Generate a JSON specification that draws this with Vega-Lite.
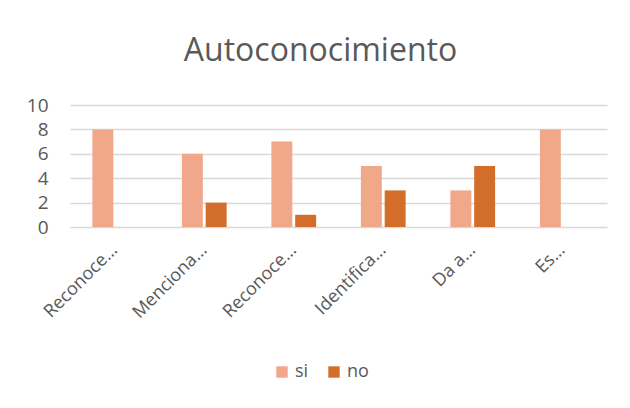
{
  "$schema": "https://vega.github.io/schema/vega-lite/v6.json",
  "width": 537,
  "height": 122,
  "autosize": {"type": "none"},
  "padding": {"left": 70, "top": 105, "right": 23, "bottom": 181},
  "background": "white",
  "title": {
    "text": "Autoconocimiento",
    "font": "Open Sans",
    "fontSize": 32,
    "fontWeight": "normal",
    "color": "#595959",
    "anchor": "middle",
    "dx": -18,
    "offset": 28
  },
  "data": {
    "values": [
      {"cat": "Reconoce…", "serie": "si", "valor": 8},
      {"cat": "Reconoce…", "serie": "no", "valor": 0},
      {"cat": "Menciona…", "serie": "si", "valor": 6},
      {"cat": "Menciona…", "serie": "no", "valor": 2},
      {"cat": "Reconoce… ", "serie": "si", "valor": 7},
      {"cat": "Reconoce… ", "serie": "no", "valor": 1},
      {"cat": "Identifica…", "serie": "si", "valor": 5},
      {"cat": "Identifica…", "serie": "no", "valor": 3},
      {"cat": "Da a…", "serie": "si", "valor": 3},
      {"cat": "Da a…", "serie": "no", "valor": 5},
      {"cat": "Es…", "serie": "si", "valor": 8},
      {"cat": "Es…", "serie": "no", "valor": 0}
    ]
  },
  "mark": {"type": "bar"},
  "encoding": {
    "x": {
      "field": "cat",
      "type": "nominal",
      "sort": null,
      "scale": {"paddingInner": 0.5, "paddingOuter": 0.25},
      "axis": {
        "title": null,
        "labelAngle": -45,
        "labelAlign": "right",
        "labelBaseline": "middle",
        "labelFont": "Open Sans",
        "labelFontSize": 18,
        "labelColor": "#595959",
        "labelPadding": 20,
        "labelDx": -4,
        "ticks": false,
        "domain": false,
        "labelLimit": 200
      }
    },
    "xOffset": {
      "field": "serie",
      "type": "nominal",
      "sort": ["si", "no"],
      "scale": {"paddingInner": 0.12}
    },
    "y": {
      "field": "valor",
      "type": "quantitative",
      "scale": {"domain": [0, 10]},
      "axis": {
        "title": null,
        "values": [0, 2, 4, 6, 8, 10],
        "labelFont": "Open Sans",
        "labelFontSize": 19,
        "labelColor": "#595959",
        "labelPadding": 22,
        "ticks": false,
        "domain": false,
        "gridColor": "#d9d9d9",
        "gridWidth": 1.3
      }
    },
    "color": {
      "field": "serie",
      "type": "nominal",
      "sort": ["si", "no"],
      "scale": {"domain": ["si", "no"], "range": ["#F1A78A", "#D26E2A"]},
      "legend": {
        "title": null,
        "orient": "none",
        "direction": "horizontal",
        "legendX": 203,
        "legendY": 258,
        "symbolType": "square",
        "symbolSize": 130,
        "symbolStrokeWidth": 0,
        "symbolOpacity": 1,
        "labelFont": "Open Sans",
        "labelFontSize": 18,
        "labelColor": "#595959",
        "columnPadding": 16,
        "labelOffset": 4
      }
    }
  },
  "config": {
    "view": {"stroke": null}
  }
}
